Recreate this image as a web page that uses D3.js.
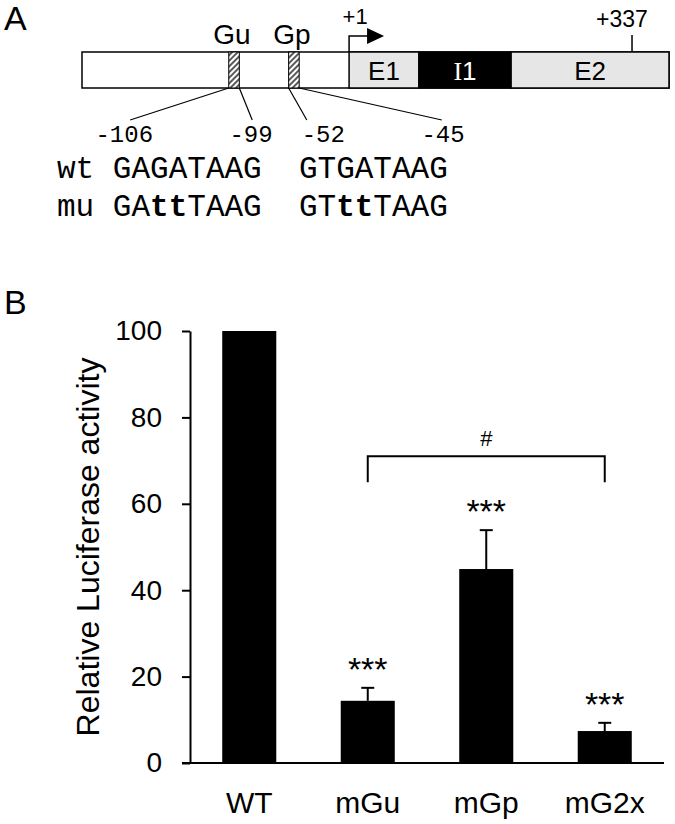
<!DOCTYPE html>
<html>
<head>
<meta charset="utf-8">
<script src="https://cdn.jsdelivr.net/npm/d3@7"></script>
<style>
body { margin: 0; background: #fff; }
text { font-family: Arial, "Liberation Sans", sans-serif; fill: #000; }
.mono { font-family: "Courier New", "Liberation Mono", monospace; white-space: pre; }
</style>
</head>
<body>
<div id="wrapper"></div>
<script>
// panel B data
const constructs = ["WT", "mGu", "mGp", "mG2x"];
const activity = [100, 14.4, 44.9, 7.4];
const activityErr = [0, 3.0, 9.0, 1.9];
const stars = ["", "***", "***", "***"];
const yTicks = [0, 20, 40, 60, 80, 100];
const brackets = [{from: "mGu", to: "mG2x", label: "#", top: 71, foot: 65}];

// panel A, positions along the schematic (0 = left end of construct, 100 = right end)
const regionNames = ["E1", "I1", "E2"];
const regionStart = [45.5, 57.4, 73.1];
const regionEnd = [57.4, 73.1, 100];
const siteNames = ["Gu", "Gp"];
const siteStart = [25.0, 35.2];
const siteEnd = [26.8, 37.0];
const coordLabels = ["-106", "-99", "-52", "-45"];
const coordFrom = [25.0, 26.8, 35.2, 37.0];
const coordTo = [8.2, 29.0, 38.3, 61.3];
const coordText = [7.2, 28.8, 41.1, 61.5];
const tssPos = 45.5;
const endPos = 93.7;
const endLabel = "+337";
const seqNames = ["wt", "mu"];
const seqGu = ["GAGATAAG", "GAttTAAG"];
const seqGp = ["GTGATAAG", "GTttTAAG"];

const width = 675, height = 824;

const svg = d3.select("#wrapper").append("svg")
  .attr("width", width)
  .attr("height", height);

const defs = svg.append("defs");
const hatch = defs.append("pattern")
  .attr("id", "hatch")
  .attr("patternUnits", "userSpaceOnUse")
  .attr("width", 4)
  .attr("height", 4)
  .attr("patternTransform", "rotate(45)");
hatch.append("rect").attr("width", 4).attr("height", 4).attr("fill", "#fff");
hatch.append("line").attr("x1", 1).attr("x2", 1).attr("y1", 0).attr("y2", 4)
  .attr("stroke", "#000").attr("stroke-width", 1.3);

// ---------- panel A ----------
svg.append("text").attr("x", 4).attr("y", 30).attr("font-size", 34).text("A");

const gx = d3.scaleLinear().domain([0, 100]).range([82, 669]);
const boxTop = 52, boxBottom = 88;

const diagram = svg.append("g");

diagram.append("rect")
  .attr("x", gx(0)).attr("y", boxTop)
  .attr("width", gx(100) - gx(0)).attr("height", boxBottom - boxTop)
  .attr("fill", "#fff").attr("stroke", "#000").attr("stroke-width", 1.5);

diagram.selectAll(".region")
  .data(regionNames)
  .join("rect")
  .attr("class", "region")
  .attr("x", (d, i) => gx(regionStart[i]))
  .attr("y", boxTop)
  .attr("width", (d, i) => gx(regionEnd[i]) - gx(regionStart[i]))
  .attr("height", boxBottom - boxTop)
  .attr("fill", d => d == "I1" ? "#000" : "#e6e6e6")
  .attr("stroke", "#000")
  .attr("stroke-width", 1.5);

const regionText = diagram.selectAll(".regionText")
  .data(regionNames)
  .join("text")
  .attr("class", "regionText")
  .attr("x", (d, i) => gx((regionStart[i] + regionEnd[i]) / 2))
  .attr("y", (boxTop + boxBottom) / 2 + 9.5)
  .attr("text-anchor", "middle")
  .attr("font-size", 26)
  .style("fill", d => d == "I1" ? "#fff" : "#000");
regionText.each(function(d) {
  const t = d3.select(this);
  if (d == "I1") {
    t.append("tspan").attr("font-family", "'Liberation Serif', serif").text("I");
    t.append("tspan").text("1");
  } else {
    t.text(d);
  }
});

diagram.selectAll(".site")
  .data(siteNames)
  .join("rect")
  .attr("class", "site")
  .attr("x", (d, i) => gx(siteStart[i]))
  .attr("y", boxTop)
  .attr("width", (d, i) => gx(siteEnd[i]) - gx(siteStart[i]))
  .attr("height", boxBottom - boxTop)
  .attr("fill", "url(#hatch)")
  .attr("stroke", "#000")
  .attr("stroke-width", 1);

diagram.selectAll(".siteText")
  .data(siteNames)
  .join("text")
  .attr("x", (d, i) => gx((siteStart[i] + siteEnd[i]) / 2) - 2)
  .attr("y", 44)
  .attr("text-anchor", "middle")
  .attr("font-size", 28)
  .text(d => d);

// transcription start arrow
const arrow = d3.path();
arrow.moveTo(gx(tssPos), boxTop);
arrow.lineTo(gx(tssPos), 36);
arrow.lineTo(gx(tssPos) + 19, 36);
diagram.append("path").attr("d", arrow.toString())
  .attr("fill", "none").attr("stroke", "#000").attr("stroke-width", 1.5);
diagram.append("path")
  .attr("d", d3.line()([[gx(tssPos) + 18, 28], [gx(tssPos) + 35, 36], [gx(tssPos) + 18, 44]]) + "Z")
  .attr("fill", "#000");
diagram.append("text")
  .attr("x", gx(tssPos) + 6).attr("y", 24)
  .attr("text-anchor", "middle").attr("font-size", 22)
  .text("+1");

diagram.append("line")
  .attr("x1", gx(endPos)).attr("x2", gx(endPos))
  .attr("y1", boxTop).attr("y2", 35)
  .attr("stroke", "#000").attr("stroke-width", 1.5);
diagram.append("text")
  .attr("x", gx(endPos) - 10).attr("y", 27)
  .attr("text-anchor", "middle").attr("font-size", 23)
  .text(endLabel);

// coordinates of the GATA sites
diagram.selectAll(".coordLine")
  .data(coordLabels)
  .join("line")
  .attr("x1", (d, i) => gx(coordFrom[i]))
  .attr("y1", boxBottom)
  .attr("x2", (d, i) => gx(coordTo[i]))
  .attr("y2", 120)
  .attr("stroke", "#000")
  .attr("stroke-width", 1.2);

diagram.selectAll(".coordText")
  .data(coordLabels)
  .join("text")
  .attr("class", "mono")
  .attr("x", (d, i) => gx(coordText[i]))
  .attr("y", 142)
  .attr("text-anchor", "middle")
  .attr("font-size", 24)
  .text(d => d);

// wt / mu sequences
const seqRows = diagram.selectAll(".seq")
  .data(seqNames)
  .join("text")
  .attr("class", "mono")
  .attr("x", 57)
  .attr("y", (d, i) => 178 + i * 38)
  .attr("font-size", 31);
seqRows.each(function(d, i) {
  const t = d3.select(this);
  const full = d + " " + seqGu[i] + "  " + seqGp[i];
  // lowercase letters inside the sequence are the mutated bases
  full.split("").forEach((ch, k) => {
    const mutated = k > d.length && ch >= "a" && ch <= "z";
    t.append("tspan")
      .attr("font-weight", mutated ? "bold" : "normal")
      .text(ch);
  });
});

// ---------- panel B ----------
svg.append("text").attr("x", 4).attr("y", 314).attr("font-size", 34).text("B");

const margin = {top: 331, right: 11, bottom: 61, left: 190};
const x = d3.scaleBand()
  .domain(constructs)
  .range([margin.left, width - margin.right])
  .paddingInner(0.544)
  .paddingOuter(0.272);
const y = d3.scaleLinear()
  .domain([0, 100])
  .range([height - margin.bottom, margin.top]);

const bars = svg.append("g");
bars.selectAll("rect")
  .data(constructs)
  .join("rect")
  .attr("x", d => x(d))
  .attr("y", (d, i) => y(activity[i]))
  .attr("width", x.bandwidth())
  .attr("height", (d, i) => y(0) - y(activity[i]))
  .attr("fill", "#000");

const errG = svg.append("g").attr("stroke", "#000").attr("stroke-width", 2);
constructs.forEach((d, i) => {
  if (!activityErr[i]) return;
  const cx = x(d) + x.bandwidth() / 2;
  errG.append("line")
    .attr("x1", cx).attr("x2", cx)
    .attr("y1", y(activity[i])).attr("y2", y(activity[i] + activityErr[i]));
  errG.append("line")
    .attr("x1", cx - 6.5).attr("x2", cx + 6.5)
    .attr("y1", y(activity[i] + activityErr[i])).attr("y2", y(activity[i] + activityErr[i]));
});

svg.append("g").selectAll("text")
  .data(constructs)
  .join("text")
  .attr("x", d => x(d) + x.bandwidth() / 2)
  .attr("y", (d, i) => y(activity[i] + activityErr[i]) - 7)
  .attr("text-anchor", "middle")
  .attr("font-size", 34)
  .text((d, i) => stars[i]);

const brG = svg.append("g");
brackets.forEach(b => {
  const x1 = x(b.from) + x.bandwidth() / 2;
  const x2 = x(b.to) + x.bandwidth() / 2;
  brG.append("path")
    .attr("d", d3.line()([[x1, y(b.foot)], [x1, y(b.top)], [x2, y(b.top)], [x2, y(b.foot)]]))
    .attr("fill", "none").attr("stroke", "#000").attr("stroke-width", 2);
  brG.append("text")
    .attr("x", (x1 + x2) / 2)
    .attr("y", y(b.top) - 10)
    .attr("text-anchor", "middle")
    .attr("font-size", 22)
    .text(b.label);
});

// axes
const yAxis = svg.append("g")
  .attr("transform", `translate(${margin.left},0)`)
  .call(d3.axisLeft(y).tickValues(yTicks).tickSize(8).tickPadding(20).tickSizeOuter(0));
yAxis.attr("font-family", null).attr("font-size", null);
yAxis.selectAll("path, line").attr("stroke", "#000").attr("stroke-width", 2);
yAxis.selectAll("text").attr("font-size", 28);

const xAxis = svg.append("g")
  .attr("transform", `translate(0,${y(0)})`)
  .call(d3.axisBottom(x).tickSize(0).tickPadding(29));
xAxis.attr("font-family", null).attr("font-size", null);
xAxis.select(".domain").remove();
xAxis.selectAll("text").attr("font-size", 30);
xAxis.append("line")
  .attr("x1", margin.left - 8).attr("x2", width - margin.right)
  .attr("stroke", "#000").attr("stroke-width", 2);

svg.append("text")
  .attr("transform", `translate(99,${(y(0) + y(100)) / 2}) rotate(-90)`)
  .attr("text-anchor", "middle")
  .attr("font-size", 32)
  .text("Relative Luciferase activity");
</script>
</body>
</html>
